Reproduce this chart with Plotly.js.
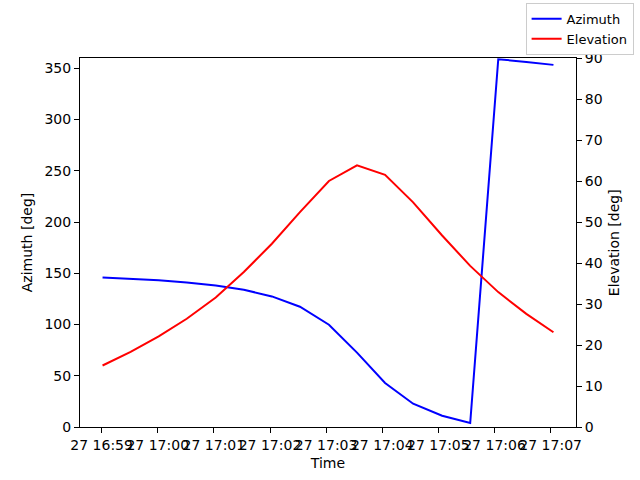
<!DOCTYPE html>
<html>
<head>
<meta charset="utf-8">
<script src="https://cdn.plot.ly/plotly-3.0.1.min.js"></script>
<style>
  html, body {margin: 0; padding: 0; background: white;}
  #plot {width: 640px; height: 480px;}
</style>
</head>
<body>
<div id="plot"></div>
<script>
// sample times (one pass, roughly every 30 s)
var times = [
   '2024-01-27 16:59:01', '2024-01-27 16:59:31', '2024-01-27 17:00:01',
   '2024-01-27 17:00:31', '2024-01-27 17:01:02', '2024-01-27 17:01:32',
   '2024-01-27 17:02:02', '2024-01-27 17:02:32', '2024-01-27 17:03:03',
   '2024-01-27 17:03:33', '2024-01-27 17:04:03', '2024-01-27 17:04:33',
   '2024-01-27 17:05:04', '2024-01-27 17:05:34', '2024-01-27 17:06:04',
   '2024-01-27 17:06:34', '2024-01-27 17:07:03'
];
var azimuth = [145.9, 144.6, 143.2, 141.0, 138.1, 133.9, 127.4, 117.3, 99.8,
               72.6, 42.9, 22.7, 11.0, 3.9, 358.8, 356.2, 353.3];
var elevation = [15.0, 18.3, 22.1, 26.4, 31.6, 37.8, 44.7, 52.4, 60.0,
                 63.8, 61.5, 54.8, 46.7, 39.3, 32.9, 27.6, 23.1];

var font = {family: 'DejaVu Sans, sans-serif', size: 14, color: 'black'};

var az = {x: times,
          y: azimuth,
          type: 'scatter',
          mode: 'lines',
          name: 'Azimuth',
          line: {color: 'blue', width: 2},
          yaxis: 'y'};
var el = {x: times,
          y: elevation,
          type: 'scatter',
          mode: 'lines',
          name: 'Elevation',
          line: {color: 'red', width: 2},
          yaxis: 'y2'};

var axisStyle = {
   showline: true, linecolor: 'black', linewidth: 1,
   ticks: 'outside', ticklen: 5, tickwidth: 1, tickcolor: 'black',
   showgrid: false, zeroline: false, tickfont: font, automargin: true
};

var layout = {
   width: 640, height: 480,
   margin: {l: 80, r: 64, t: 58, b: 53, autoexpand: false},
   paper_bgcolor: 'white', plot_bgcolor: 'white',
   font: font,
   showlegend: true,
   legend: {xref: 'container', yref: 'container',
            x: 0.99, xanchor: 'right', y: 0.994, yanchor: 'top',
            bordercolor: '#cccccc', borderwidth: 1, bgcolor: 'white',
            itemwidth: 30, font: {family: font.family, size: 13, color: 'black'}},
   xaxis: Object.assign({}, axisStyle, {
      type: 'date',
      range: ['2024-01-27 16:58:36.9', '2024-01-27 17:07:27.1'],
      tick0: '2024-01-27 16:59:00', dtick: 60000,
      tickformat: '%d %H:%M', tickangle: 0,
      mirror: true,
      title: {text: 'Time', font: font, standoff: 6}
   }),
   yaxis: Object.assign({}, axisStyle, {
      range: [0, 360], dtick: 50, tick0: 0,
      title: {text: 'Azimuth [deg]', font: font, standoff: 8}
   }),
   yaxis2: Object.assign({}, axisStyle, {
      overlaying: 'y', side: 'right',
      range: [0, 90], dtick: 10, tick0: 0
   }),
   // right axis title (overlaying-axis title lands in the wrong place)
   annotations: [{text: 'Elevation [deg]', xref: 'paper', yref: 'paper',
                  x: 1.076, y: 0.5, textangle: -90, showarrow: false,
                  xanchor: 'center', yanchor: 'middle', font: font}]
};

Plotly.newPlot('plot', [az, el], layout, {displayModeBar: false, staticPlot: true});
</script>
</body>
</html>
